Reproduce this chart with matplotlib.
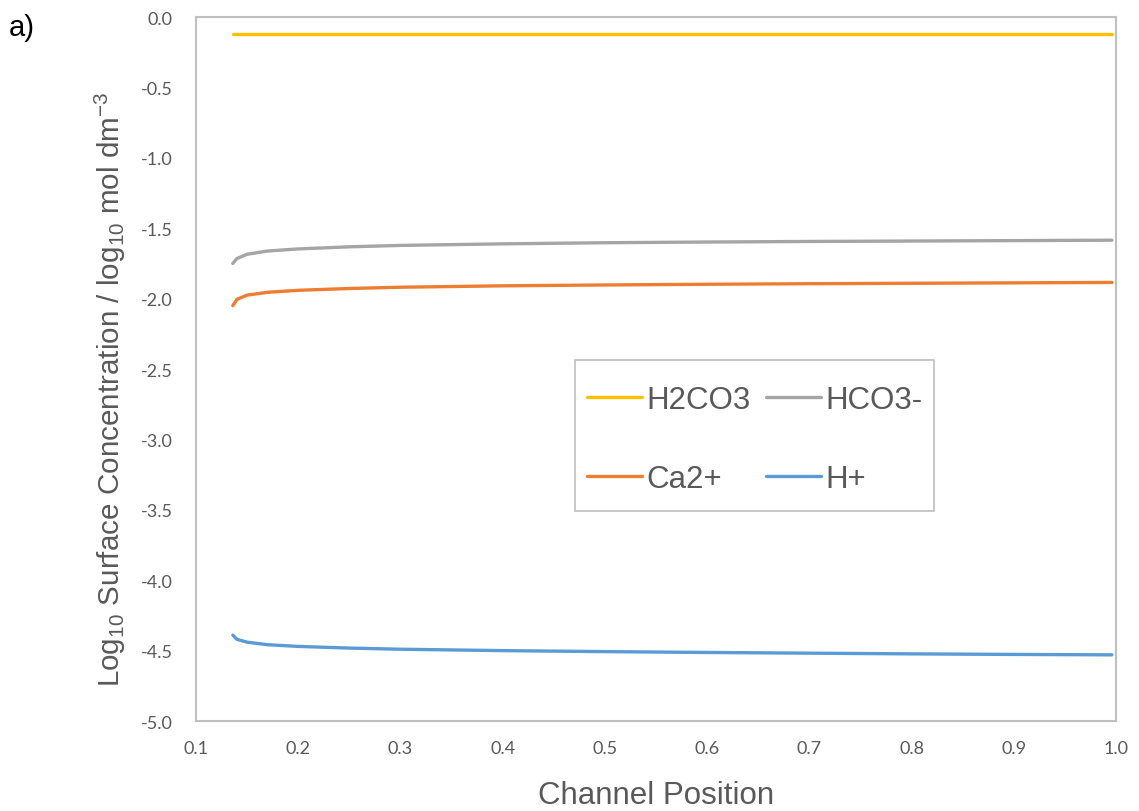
import numpy as np
import matplotlib
matplotlib.use('Agg')
import matplotlib.pyplot as plt
from matplotlib.patches import Rectangle

plt.rcParams['axes.unicode_minus'] = False

# values
position = [0.136, 0.14, 0.15, 0.17, 0.2, 0.25, 0.3, 0.4, 0.5, 0.6, 0.7, 0.8, 0.9, 0.996]
h2co3 = [-0.12] * len(position)
hco3 = [-1.75, -1.715, -1.685, -1.662, -1.647, -1.632, -1.622, -1.611, -1.603, -1.598, -1.594, -1.591, -1.588, -1.585]
ca = [-2.05, -2.005, -1.975, -1.955, -1.941, -1.928, -1.919, -1.909, -1.903, -1.898, -1.894, -1.891, -1.888, -1.885]
hplus = [-4.39, -4.42, -4.44, -4.458, -4.47, -4.482, -4.49, -4.50, -4.507, -4.513, -4.518, -4.523, -4.527, -4.53]

series = [('H2CO3', h2co3, '#FFC000'),
          ('HCO3-', hco3, '#A5A5A5'),
          ('Ca2+', ca, '#ED7D31'),
          ('H+', hplus, '#5B9BD5')]

xticks = np.arange(0.1, 1.01, 0.1)
yticks = np.arange(-5.0, 0.01, 0.5)

textgrey = '#595959'
framegrey = '#BFBFBF'

fig = plt.figure(figsize=(11.39, 8.12), dpi=100)
ax = fig.add_axes([0.1721, 0.1108, 0.8077, 0.867])

lines = {}
for name, vals, col in series:
    lines[name], = ax.plot(position, vals, color=col, lw=2.4, label=name,
                           solid_capstyle='round')

ax.set_xlim(0.1, 1.0)
ax.set_ylim(-5.0, 0.0)
ax.set_xticks(xticks)
ax.set_xticklabels(['%.1f' % t for t in xticks])
ax.set_yticks(yticks)
ax.set_yticklabels(['%.1f' % t for t in yticks])
ax.tick_params(length=0, labelsize=13, labelcolor=textgrey)
ax.tick_params(axis='y', pad=17)
ax.tick_params(axis='x', pad=14)
for lab in ax.get_xticklabels() + ax.get_yticklabels():
    lab.set_family('Lato')

for sp in ax.spines.values():
    sp.set_color(framegrey)
    sp.set_linewidth(1.5)

ax.set_xlabel('Channel Position', fontsize=22.5, color=textgrey,
              family='Liberation Sans', labelpad=17)
ax.set_ylabel(r'Log$\mathregular{_{10}}$ Surface Concentration / log$\mathregular{_{10}}$ mol dm$\mathregular{^{-3}}$',
              fontsize=21.3, color=textgrey, family='Liberation Sans')
ax.yaxis.set_label_coords(-0.074, 0.473)

# legend: row-major order like the original, frame drawn separately
order = ['H2CO3', 'Ca2+', 'HCO3-', 'H+']
leg = ax.legend([lines[n] for n in order], order, ncol=2, loc='upper left',
                bbox_to_anchor=(0.425, 0.4775), borderaxespad=0, borderpad=0,
                frameon=False, handlelength=1.75, handletextpad=0.15,
                columnspacing=0.5, labelspacing=1.58,
                prop={'family': 'Liberation Sans', 'size': 22.5})
for t in leg.get_texts():
    t.set_color(textgrey)
ax.add_patch(Rectangle((0.412, 0.298), 0.39, 0.215, transform=ax.transAxes,
                       facecolor='white', edgecolor=framegrey, lw=1.2, zorder=4))
leg.set_zorder(5)

fig.text(0.008, 0.965, 'a)', fontsize=21, family='Liberation Sans', va='center')

fig.savefig('out.png', dpi=100)
